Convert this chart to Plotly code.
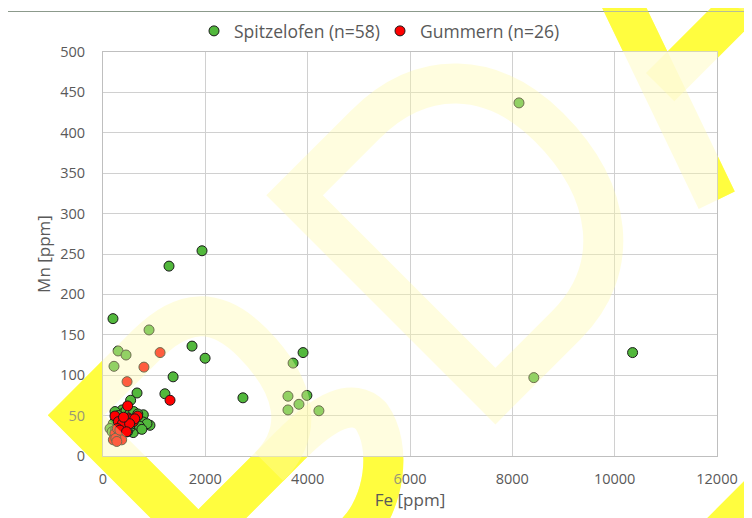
import plotly.graph_objects as go

# ---------------- data ----------------
spitz_fe = [8130, 10350, 8420, 1935, 1290, 195, 900, 1740, 1995, 295, 450, 215,
            3910, 3715, 1370, 2735, 3615, 3985, 3830, 3615, 4220, 1210, 665,
            540, 375, 234, 397, 300, 450, 520, 600, 650, 700,
            788, 788, 918, 860, 657, 590, 540, 480, 420, 350,
            270, 200, 137, 180, 250, 320, 560, 620, 710, 760,
            480, 400, 300, 230, 680]
spitz_mn = [437, 128, 97, 254, 235, 170, 156, 136, 121, 130, 125, 111,
            128, 115, 98, 72, 74, 75, 64, 57, 56, 77, 78,
            69, 57, 55, 53, 50, 56, 52, 55, 48, 45,
            51, 42, 38, 40, 34, 29, 36, 40, 45, 44,
            46, 40, 34, 30, 33, 38, 44, 40, 37, 33,
            30, 34, 25, 22, 52]

gum_fe = [1115, 800, 470, 1310, 482, 234, 495, 677, 592, 450, 300, 234, 332,
          202, 365, 430, 540, 620, 380, 280, 250, 330, 520, 460, 270, 400]
gum_mn = [128, 110, 92, 69, 62, 49.5, 47, 49.5, 42.5, 37, 42.5, 28, 26,
          20, 20, 36, 45, 46, 40, 34, 22, 32, 40, 30, 18, 48]

spitz_name = "Spitzelofen (n=58)"
gum_name = "Gummern (n=26)"
x_title = "Fe [ppm]"
y_title = "Mn [ppm]"
x_ticks = [0, 2000, 4000, 6000, 8000, 10000, 12000]
y_ticks = [0, 50, 100, 150, 200, 250, 300, 350, 400, 450, 500]

# ---------------- layout geometry ----------------
# the page body has an 8px margin, so the figure starts at screen (8, 8)
BODY = 8
W, H = 752 - BODY, 518 - BODY
ML, MT = 103 - BODY, 52 - BODY
MR = W - (717 - BODY)
MB = H - (456 - BODY)
PW = W - ML - MR
PH = H - MT - MB


def px_to_paper(x, y):
    """screen pixel -> paper coordinates"""
    return (x - BODY - ML) / PW, (H - MB - (y - BODY)) / PH


# ---------------- decorative watermark (yellow letter strokes) ----------------
WM_ORIGIN = (494, 423)
C45 = 0.70710678


def frame_to_paper(u, v):
    sx = WM_ORIGIN[0] + C45 * (u - v)
    sy = WM_ORIGIN[1] - C45 * (u + v)
    return px_to_paper(sx, sy)


wm_strokes = [
    # first letter (B-like)
    [("M", [(-290, 20)]), ("L", [(-290, 301)]), ("L", [(-190, 301)]),
     ("C", [(-140, 301), (-114, 280), (-114, 228)]),
     ("C", [(-114, 165), (-140, 128), (-190, 128)]), ("L", [(-290, 128)])],
    [("M", [(-190, 128)]), ("L", [(-160, 128)]),
     ("C", [(-110, 128), (-82, 118), (-82, 92)]),
     ("C", [(-88, 55), (-135, 20), (-175, 20)]), ("L", [(-290, 20)])],
    # D
    [("M", [(20, 18)]), ("L", [(20, 302)]), ("L", [(120, 302)]),
     ("C", [(200, 302), (248, 250), (248, 170)]),
     ("C", [(248, 80), (200, 18), (120, 18)]), ("Z", [])],
    # third letter
    [("M", [(315, 0)]), ("L", [(422, 305)]), ("L", [(530, 0)])],
    [("M", [(355, 120)]), ("L", [(495, 120)])],
    # piece of the next row
    [("M", [(40, -238)]), ("L", [(260, -238)])],
]


def stroke_path(cmds):
    parts = []
    for cmd, pts in cmds:
        coords = " ".join("%.5f,%.5f" % frame_to_paper(u, v) for u, v in pts)
        parts.append(cmd + " " + coords if coords else cmd)
    return " ".join(parts)


shapes = []
for s in wm_strokes:
    shapes.append(dict(type="path", xref="paper", yref="paper", path=stroke_path(s),
                       line=dict(color="rgb(255,255,0)", width=40), layer="below"))
# white plot area covering the strong watermark
shapes.append(dict(type="rect", xref="x domain", yref="y domain", x0=0, x1=1, y0=0, y1=1,
                   fillcolor="white", line=dict(width=0), layer="below"))
# pale translucent watermark over everything
for s in wm_strokes:
    shapes.append(dict(type="path", xref="paper", yref="paper", path=stroke_path(s),
                       line=dict(color="rgb(255,252,170)", width=40), opacity=0.37, layer="above"))
# outer chart frame (top edge)
fx0, fy = px_to_paper(6.5, 11.5)
fx1, _ = px_to_paper(760, 11.5)
shapes.append(dict(type="line", xref="paper", yref="paper", x0=fx0, y0=fy, x1=fx1, y1=fy,
                   line=dict(color="#8c9a8c", width=1), layer="below"))

FONT = "Open Sans"
TXT = "#595959"

fig = go.Figure()
fig.add_trace(go.Scatter(x=spitz_fe, y=spitz_mn, mode="markers", name=spitz_name,
                         marker=dict(size=10, color="#52B83C", line=dict(color="#1a1a1a", width=1))))
fig.add_trace(go.Scatter(x=gum_fe, y=gum_mn, mode="markers", name=gum_name,
                         marker=dict(size=10, color="#FF0000", line=dict(color="#1a1a1a", width=1))))

lx, _ = px_to_paper(194, 0)
_, ly = px_to_paper(0, 31)

fig.update_layout(
    width=W, height=H,
    margin=dict(l=ML, r=MR, t=MT, b=MB, pad=0, autoexpand=False),
    paper_bgcolor="white", plot_bgcolor="white",
    font=dict(family=FONT, color=TXT),
    showlegend=True,
    legend=dict(orientation="h", x=lx, xanchor="left", y=ly, yanchor="middle",
                font=dict(size=17.5, color=TXT, family=FONT), bgcolor="rgba(0,0,0,0)",
                itemwidth=30, entrywidth=141, entrywidthmode="pixels"),
    shapes=shapes,
    xaxis=dict(range=[0, 12000], tickvals=x_ticks, ticktext=[str(t) for t in x_ticks],
               showgrid=True, gridcolor="#D0D0D0", gridwidth=1,
               showline=True, linecolor="#BFBFBF", linewidth=1, mirror=True,
               zeroline=False, ticks="", ticklabelstandoff=10,
               tickfont=dict(size=14.5, color=TXT, family=FONT),
               title=dict(text=x_title, font=dict(size=17, color=TXT, family=FONT), standoff=0)),
    yaxis=dict(range=[0, 500], tickvals=y_ticks, ticktext=[str(t) for t in y_ticks],
               showgrid=True, gridcolor="#D0D0D0", gridwidth=1,
               showline=True, linecolor="#BFBFBF", linewidth=1, mirror=True,
               zeroline=False, ticks="", ticklabelstandoff=14,
               tickfont=dict(size=14.5, color=TXT, family=FONT),
               title=dict(text=y_title, font=dict(size=17, color=TXT, family=FONT), standoff=5)),
)

fig.write_html("out.html")
